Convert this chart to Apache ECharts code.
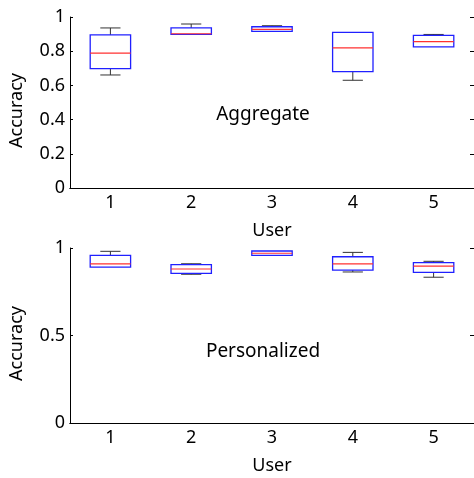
<!DOCTYPE html>
<html>
<head>
<meta charset="UTF-8">
<title>Accuracy per user</title>
<script src="https://cdn.jsdelivr.net/npm/echarts@6/dist/echarts.min.js"></script>
<style>
  html, body { margin: 0; padding: 0; background: #fff; }
  #chart { width: 474px; height: 478px; }
</style>
</head>
<body>
<div id="chart"></div>
<script>
// users on the x axis
var users = ['1', '2', '3', '4', '5'];

// [low whisker, q1, median, q3, high whisker] per user
var aggregate = [
  [0.661, 0.698, 0.789, 0.895, 0.936],
  [0.898, 0.898, 0.902, 0.936, 0.959],
  [0.916, 0.916, 0.928, 0.943, 0.949],
  [0.630, 0.680, 0.819, 0.910, 0.910],
  [0.825, 0.825, 0.856, 0.892, 0.898]
];
var personalized = [
  [0.889, 0.891, 0.909, 0.958, 0.981],
  [0.850, 0.855, 0.880, 0.905, 0.910],
  [0.958, 0.958, 0.970, 0.983, 0.983],
  [0.863, 0.874, 0.909, 0.950, 0.975],
  [0.833, 0.861, 0.897, 0.916, 0.924]
];

var topTicks = ['0', '0.2', '0.4', '0.6', '0.8', '1'];
var bottomTicks = ['0', '0.5', '1'];

var font = '"Noto Sans", sans-serif';

function renderBox(params, api) {
  var x = api.value(0);
  var lo = api.coord([x, api.value(1)]);
  var q1 = api.coord([x, api.value(2)]);
  var md = api.coord([x, api.value(3)]);
  var q3 = api.coord([x, api.value(4)]);
  var hi = api.coord([x, api.value(5)]);
  var bw = api.size([1, 0])[0] * 0.5;
  var cx = lo[0];
  var cap = bw / 2;
  var kids = [];
  var wh = { stroke: '#333', lineWidth: 1 };
  if (hi[1] < q3[1] - 0.5) {
    kids.push({ type: 'line', shape: { x1: cx, y1: q3[1], x2: cx, y2: hi[1] }, style: wh });
    kids.push({ type: 'line', shape: { x1: cx - cap / 2, y1: hi[1], x2: cx + cap / 2, y2: hi[1] }, style: wh });
  }
  if (lo[1] > q1[1] + 0.5) {
    kids.push({ type: 'line', shape: { x1: cx, y1: q1[1], x2: cx, y2: lo[1] }, style: wh });
    kids.push({ type: 'line', shape: { x1: cx - cap / 2, y1: lo[1], x2: cx + cap / 2, y2: lo[1] }, style: wh });
  }
  kids.push({
    type: 'rect',
    shape: { x: cx - bw / 2, y: q3[1], width: bw, height: q1[1] - q3[1] },
    style: { fill: null, stroke: '#2020ff', lineWidth: 1.3 }
  });
  kids.push({
    type: 'line',
    shape: { x1: cx - bw / 2, y1: md[1], x2: cx + bw / 2, y2: md[1] },
    style: { stroke: '#ff3030', lineWidth: 1.2 }
  });
  return { type: 'group', children: kids };
}

function toRows(arr) {
  return arr.map(function (r, i) { return [i].concat(r); });
}

function yAxisLeft(idx, interval, ticks) {
  return {
    type: 'value', gridIndex: idx, min: 0, max: 1, interval: interval,
    name: 'Accuracy', nameLocation: 'middle', nameGap: 44,
    nameTextStyle: { fontFamily: font, fontSize: 18, color: '#000', padding: [0, 16, 0, 0] },
    axisLine: { show: true, lineStyle: { color: '#000', width: 1 } },
    axisTick: { show: true, inside: true, length: 3, lineStyle: { color: '#000' } },
    axisLabel: {
      fontFamily: font, fontSize: 18, color: '#000', margin: 5,
      formatter: function (v) { return ticks[Math.round(v / interval)]; }
    },
    splitLine: { show: false }
  };
}

function yAxisRight(idx, interval) {
  return {
    type: 'value', gridIndex: idx, min: 0, max: 1, interval: interval, position: 'right',
    axisLine: { show: false },
    axisTick: { show: true, inside: true, length: 4, lineStyle: { color: '#000' } },
    axisLabel: { show: false },
    splitLine: { show: false }
  };
}

function xAxis(idx) {
  return {
    type: 'category', gridIndex: idx, data: users,
    name: 'User', nameLocation: 'middle', nameGap: 34,
    nameTextStyle: { fontFamily: font, fontSize: 18, color: '#000' },
    axisLine: { show: true, lineStyle: { color: '#000', width: 1 } },
    axisTick: { show: false },
    axisLabel: { fontFamily: font, fontSize: 18, color: '#000', margin: 6 }
  };
}

// top edge of each frame
function xAxisTop(idx) {
  return {
    type: 'category', gridIndex: idx, data: users, position: 'top',
    axisLine: { show: true, lineStyle: { color: '#000', width: 1 } },
    axisTick: { show: false },
    axisLabel: { show: false }
  };
}

var chart = echarts.init(document.getElementById('chart'));
chart.setOption({
  animation: false,
  backgroundColor: '#fff',
  grid: [
    { left: 69, top: 17, width: 407, height: 171 },
    { left: 69, top: 248, width: 407, height: 175 }
  ],
  xAxis: [xAxis(0), xAxis(1), xAxisTop(0), xAxisTop(1)],
  yAxis: [yAxisLeft(0, 0.2, topTicks), yAxisRight(0, 0.2), yAxisLeft(1, 0.5, bottomTicks), yAxisRight(1, 0.5)],
  graphic: [
    { type: 'text', x: 263, y: 115, style: { text: 'Aggregate', fontFamily: font, fontSize: 19, fill: '#000', align: 'center', verticalAlign: 'middle' } },
    { type: 'text', x: 263, y: 352, style: { text: 'Personalized', fontFamily: font, fontSize: 19, fill: '#000', align: 'center', verticalAlign: 'middle' } }
  ],
  series: [
    { type: 'custom', xAxisIndex: 0, yAxisIndex: 0, renderItem: renderBox, data: toRows(aggregate), encode: { x: 0, y: [1, 2, 3, 4, 5] } },
    { type: 'custom', xAxisIndex: 1, yAxisIndex: 2, renderItem: renderBox, data: toRows(personalized), encode: { x: 0, y: [1, 2, 3, 4, 5] } }
  ]
});
</script>
</body>
</html>
